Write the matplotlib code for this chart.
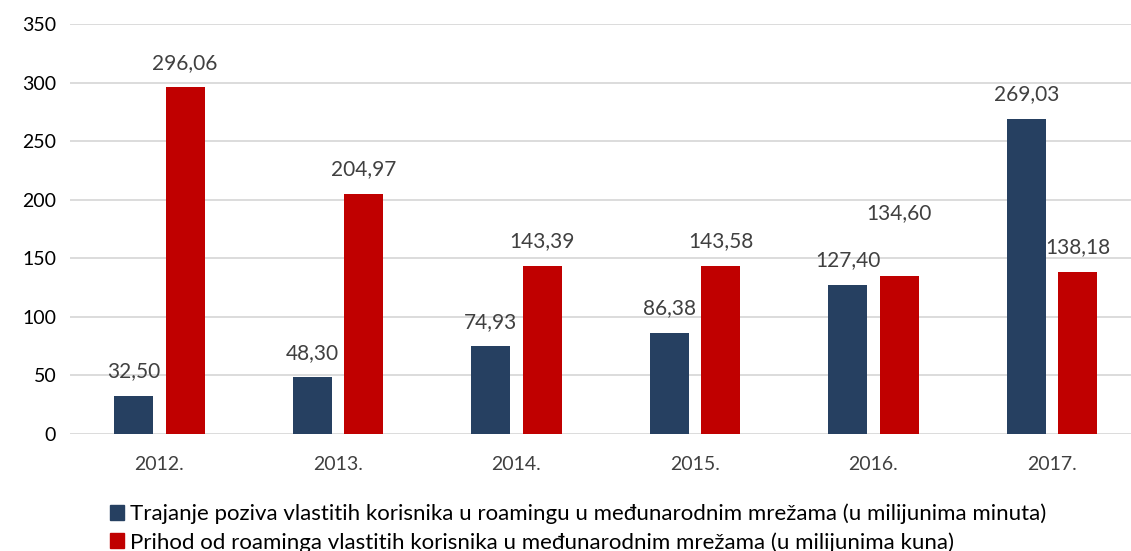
import numpy as np
import matplotlib.pyplot as plt
from matplotlib.patches import Patch

plt.rcParams['font.family'] = ['Lato', 'DejaVu Sans']

years = ['2012.', '2013.', '2014.', '2015.', '2016.', '2017.']
trajanje = [32.50, 48.30, 74.93, 86.38, 127.40, 269.03]
prihod = [296.06, 204.97, 143.39, 143.58, 134.60, 138.18]
series_names = [
    'Trajanje poziva vlastitih korisnika u roamingu u međunarodnim mrežama (u milijunima minuta)',
    'Prihod od roaminga vlastitih korisnika u međunarodnim mrežama (u milijunima kuna)',
]

blue = '#264061'
red = '#C00000'
txt = '#404040'

fig = plt.figure(figsize=(11.31, 5.51), dpi=100)
ax = fig.add_axes([0.062, 0.2123, 0.947, 0.7441])

x = np.arange(len(years))
w = 0.218
off = 0.144
b1 = ax.bar(x - off, trajanje, w, color=blue, zorder=3)
b2 = ax.bar(x + off, prihod, w, color=red, zorder=3)

def fmt(v):
    return f'{v:.2f}'.replace('.', ',')

# extra lift for labels that sit higher in the original
lift = {(1, 4): 28}
for si, bars in enumerate([b1, b2]):
    for i, b in enumerate(bars):
        v = b.get_height()
        ax.annotate(fmt(v), (b.get_x() + b.get_width() / 2, v),
                    xytext=(0, 10.5 + lift.get((si, i), 0)), textcoords='offset points',
                    ha='center', va='bottom', fontsize=15, color=txt)

ax.set_ylim(0, 350)
ax.set_yticks(range(0, 351, 50))
ax.set_xlim(-0.5, len(years) - 0.5)
ax.set_xticks(x)
ax.set_xticklabels(years)
ax.grid(axis='y', color='#D9D9D9', linewidth=1.3, zorder=0)
for s in ax.spines.values():
    s.set_visible(False)
ax.tick_params(axis='both', length=0, labelsize=14, labelcolor=txt)
ax.tick_params(axis='x', pad=16)
ax.tick_params(axis='y', pad=10)
for t in ax.get_yticklabels():
    t.set_color('black')

handles = [Patch(color=blue), Patch(color=red)]
leg = fig.legend(handles, series_names, loc='upper left',
                 bbox_to_anchor=(0.097, 0.086), frameon=False, fontsize=16,
                 handlelength=0.65, handleheight=0.65, handletextpad=0.25,
                 labelspacing=0.35, borderaxespad=0, borderpad=0)
for t in leg.get_texts():
    t.set_color('black')

fig.savefig('out.png', dpi=100)
